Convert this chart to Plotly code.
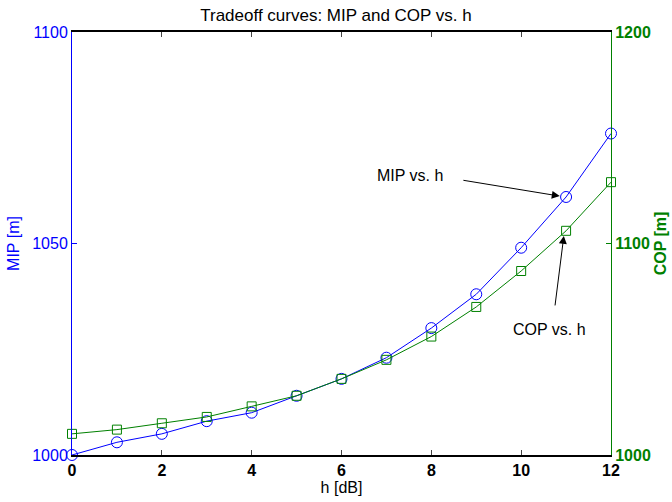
import plotly.graph_objects as go

h_db = [0, 1, 2, 3, 4, 5, 6, 7, 8, 9, 10, 11, 12]
mip = [1000, 1003, 1005, 1008, 1010, 1014, 1018, 1023, 1030, 1038, 1049, 1061, 1076]
cop = [1010, 1012, 1015, 1018, 1023, 1028, 1036, 1045, 1056, 1070, 1087, 1106, 1129]
x_ticks = [0, 2, 4, 6, 8, 10, 12]
mip_ticks = [1000, 1050, 1100]
cop_ticks = [1000, 1100, 1200]

BLUE = "#0000ff"
GREEN = "#008000"
FONT = "Liberation Sans, Arial, sans-serif"

fig = go.Figure()
fig.add_trace(go.Scatter(
    x=h_db, y=mip, mode="lines+markers", name="MIP",
    line=dict(color=BLUE, width=1),
    marker=dict(symbol="circle-open", size=11, color=BLUE, line=dict(width=1)),
    yaxis="y", showlegend=False, cliponaxis=False))
fig.add_trace(go.Scatter(
    x=h_db, y=cop, mode="lines+markers", name="COP",
    line=dict(color=GREEN, width=1),
    marker=dict(symbol="square-open", size=9, color=GREEN, line=dict(width=1)),
    yaxis="y2", showlegend=False, cliponaxis=False))

fig.update_layout(
    width=672, height=502,
    margin=dict(l=72, r=61, t=32, b=47, autoexpand=False),
    paper_bgcolor="white", plot_bgcolor="white",
    font=dict(family=FONT, size=16, color="black"),
    title=dict(text="Tradeoff curves: MIP and COP vs. h", x=0.5, xanchor="center",
               y=0.97, yanchor="middle", font=dict(size=17, color="black")),
    xaxis=dict(range=[0, 12], tickvals=x_ticks, ticks="inside", ticklen=5,
               showgrid=False, zeroline=False, showline=True, linecolor="black",
               linewidth=2, mirror="ticks", automargin=False,
               tickfont=dict(size=16, color="black", family=FONT, weight="bold"),
               title=dict(text="h [dB]", font=dict(size=16), standoff=2)),
    yaxis=dict(range=[1000, 1100], tickvals=mip_ticks, ticks="inside", ticklen=5,
               tickcolor=BLUE, showgrid=False, zeroline=False, showline=True,
               linecolor=BLUE, linewidth=1, automargin=False,
               tickfont=dict(size=16, color=BLUE),
               title=dict(text="MIP [m]", font=dict(size=16, color=BLUE), standoff=8)),
    yaxis2=dict(range=[1000, 1200], tickvals=cop_ticks, ticks="inside", ticklen=5,
                tickcolor=GREEN, overlaying="y", side="right", showgrid=False,
                zeroline=False, showline=True, linecolor=GREEN, linewidth=1,
                automargin=False,
                tickfont=dict(size=16, color=GREEN, weight="bold"),
                title=dict(text="COP [m]", font=dict(size=16, color=GREEN, weight="bold"),
                           standoff=4)),
)

annotations = [
    dict(x=7.53, y=1066, xref="x", yref="y", text="MIP vs. h", showarrow=False,
         font=dict(size=16, color="black")),
    dict(x=10.86, y=1061.2, xref="x", yref="y", ax=8.68, ay=1065, axref="x", ayref="y",
         text="", showarrow=True, arrowhead=2, arrowsize=1.6, arrowwidth=1, arrowcolor="black"),
    dict(x=10.64, y=1029.6, xref="x", yref="y", text="COP vs. h", showarrow=False,
         font=dict(size=16, color="black")),
    dict(x=10.95, y=1051.8, xref="x", yref="y", ax=10.75, ay=1035, axref="x", ayref="y",
         text="", showarrow=True, arrowhead=2, arrowsize=1.6, arrowwidth=1, arrowcolor="black"),
]
fig.update_layout(annotations=annotations)

fig.write_html("out.html")
